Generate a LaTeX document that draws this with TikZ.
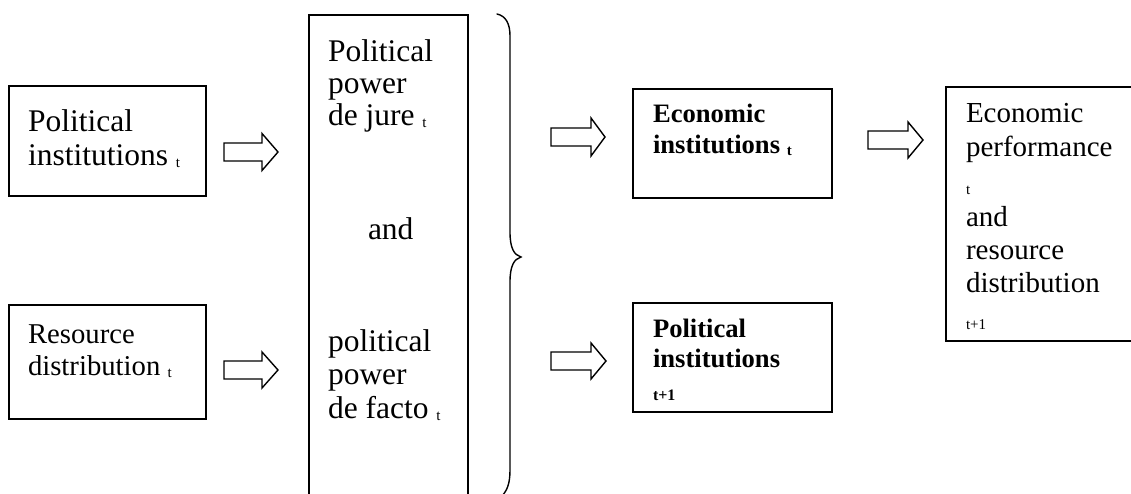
\documentclass[tikz,border=0pt]{standalone}
\usepackage{fontspec}
\setmainfont{Liberation Serif}
\newcommand{\fA}{\fontsize{31.5}{35}\selectfont}
\newcommand{\fB}{\fontsize{28.7}{32}\selectfont}
\newcommand{\fE}{\fontsize{29}{33}\selectfont}
\newcommand{\fC}{\fontsize{26.6}{30}\selectfont\bfseries}
\newcommand{\fS}{\fontsize{15}{15}\selectfont}
\newcommand{\fSB}{\fontsize{16}{16}\selectfont\bfseries}
\newcommand{\lowt}[1]{\raisebox{-2pt}{\fS #1}}
\tikzset{
  box/.style={draw, line width=1.7pt, inner sep=0pt, anchor=north west},
  lbl/.style={anchor=base west, inner sep=0pt, outer sep=0pt},
  barrow/.style={draw, line width=1.4pt, line join=miter, fill=white},
  bracepath/.style={draw, line width=1.4pt, line cap=round}
}
\begin{document}
\begin{tikzpicture}[x=1pt,y=-1pt]
\useasboundingbox (0,0) rectangle (1131,494);
\fill[white] (0,0) rectangle (1131,494);
% boxes
\node[box, minimum width=197pt, minimum height=110pt] (A) at (8,85) {};
\node[box, minimum width=197pt, minimum height=114pt] (B) at (8,304) {};
\node[box, minimum width=159pt, minimum height=490pt] (T) at (308,14) {};
\node[box, minimum width=199pt, minimum height=109pt] (C) at (632,88) {};
\node[box, minimum width=199pt, minimum height=109pt] (D) at (632,302) {};
\node[box, minimum width=200pt, minimum height=254pt] (E) at (945,86) {};
% texts box A
\node[lbl, font=\fA] (a1) at (28,132) {Political};
\node[lbl, font=\fA] (a2) at (28,166) {institutions \lowt{t}};
% box B
\node[lbl, font=\fB] (b1) at (28,343) {Resource};
\node[lbl, font=\fB] (b2) at (28,375) {distribution \lowt{t}};
% tall box
\node[lbl, font=\fA] (t1) at (328,62) {Political};
\node[lbl, font=\fA] (t2) at (328,94) {power};
\node[lbl, font=\fA] (t3) at (328,126) {de jure \lowt{t}};
\node[lbl, font=\fA] (t4) at (368,240) {and};
\node[lbl, font=\fA] (t5) at (328,351) {political};
\node[lbl, font=\fA] (t6) at (328,384) {power};
\node[lbl, font=\fA] (t7) at (328,418) {de facto \lowt{t}};
% box C
\node[lbl, font=\fC] (c1) at (653,123) {Economic};
\node[lbl, font=\fC] (c2) at (653,154) {institutions \lowt{t}};
% box D
\node[lbl, font=\fC] (d1) at (653,337) {Political};
\node[lbl, font=\fC] (d2) at (653,367) {institutions};
\node[lbl, font=\fSB] (d3) at (653,400) {t+1};
% box E
\node[lbl, font=\fE] (e1) at (966,123) {Economic};
\node[lbl, font=\fE] (e2) at (966,157) {performance};
\node[lbl, font=\fS] (e3) at (966,195) {t};
\node[lbl, font=\fE] (e4) at (966,226) {and};
\node[lbl, font=\fE] (e5) at (966,259) {resource};
\node[lbl, font=\fE] (e6) at (966,292) {distribution};
\node[lbl, font=\fS] (e7) at (966,329) {t+1};
% block arrows
\draw[barrow] (224,143) -- (262,143) -- (262,133.5) -- (278,152) -- (262,170.5) -- (262,161) -- (224,161) -- cycle;
\draw[barrow] (224,361) -- (262,361) -- (262,352) -- (278,370) -- (262,388) -- (262,379) -- (224,379) -- cycle;
\draw[barrow] (551,128) -- (591,128) -- (591,118) -- (605,137) -- (591,156) -- (591,146) -- (551,146) -- cycle;
\draw[barrow] (551,352) -- (591,352) -- (591,343) -- (606,361) -- (591,379) -- (591,370) -- (551,370) -- cycle;
\draw[barrow] (868,131) -- (908,131) -- (908,122) -- (923,140) -- (908,158) -- (908,149) -- (868,149) -- cycle;
% brace
\draw[bracepath] (497,14) .. controls (506,16) and (510,24) .. (510,36) -- (510,232)
  .. controls (510,248) and (514,255) .. (521,257)
  .. controls (514,259) and (510,266) .. (510,282) -- (510,470)
  .. controls (510,484) and (507,491) .. (501,497);
\end{tikzpicture}
\end{document}
